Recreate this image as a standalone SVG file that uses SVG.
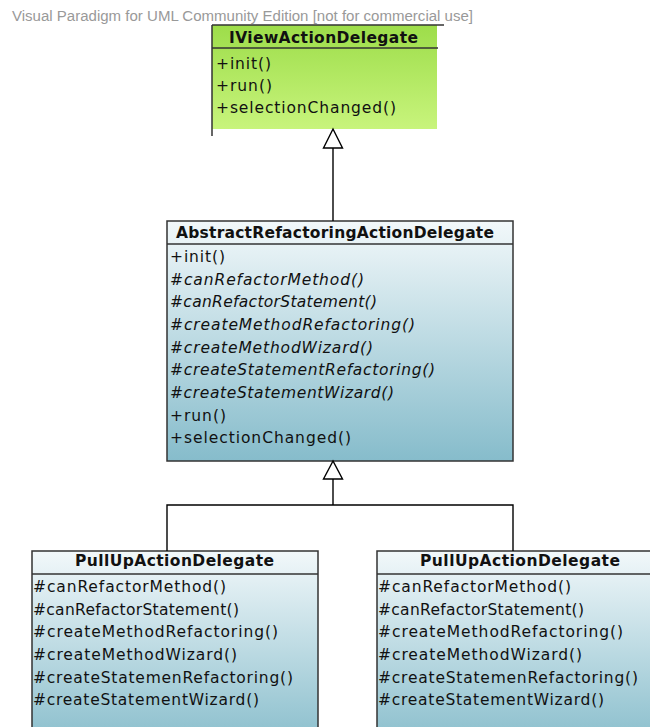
<svg xmlns="http://www.w3.org/2000/svg" width="650" height="727" viewBox="0 0 650 727">
<defs>
<linearGradient id="green" x1="0" y1="0" x2="0" y2="1">
<stop offset="0" stop-color="#9ddd4a"/>
<stop offset="1" stop-color="#c8f47c"/>
</linearGradient>
<linearGradient id="blue" x1="0" y1="0" x2="0" y2="1">
<stop offset="0" stop-color="#f2f8fa"/>
<stop offset="1" stop-color="#86bccb"/>
</linearGradient>
<linearGradient id="blue2" x1="0" y1="0" x2="0" y2="1">
<stop offset="0" stop-color="#f2f8fa"/>
<stop offset="1" stop-color="#8bbfcd"/>
</linearGradient>
</defs>
<style>
.wm{font-family:"Liberation Sans",Arial,sans-serif;font-size:14px;fill:#999}
.t{font-family:"DejaVu Sans",sans-serif;font-size:15.5px;font-weight:bold;fill:#111}
.m{font-family:"DejaVu Sans",sans-serif;font-size:15.5px;fill:#111}
.i{font-style:italic}
.b{stroke:#333;stroke-width:1.5;fill:none}
.c{stroke:#000;stroke-width:1.4;fill:none}
.tri{stroke:#000;stroke-width:1.4;fill:#fff}
</style>
<text class="wm" x="12" y="21" textLength="461" lengthAdjust="spacingAndGlyphs">Visual Paradigm for UML Community Edition [not for commercial use]</text>

<g id="IViewActionDelegate">
<rect x="212" y="25" width="225" height="104" fill="url(#green)"/>
<line class="b" x1="212" y1="25" x2="444" y2="25"/>
<line class="b" x1="212" y1="25" x2="212" y2="136"/>
<line class="b" x1="212" y1="48" x2="438" y2="48"/>
<text class="t" x="229" y="43" textLength="189" lengthAdjust="spacing">IViewActionDelegate</text>
<text class="m" x="216" y="69" textLength="55" lengthAdjust="spacing">+init()</text>
<text class="m" x="216" y="91" textLength="56" lengthAdjust="spacing">+run()</text>
<text class="m" x="216" y="113" textLength="180" lengthAdjust="spacing">+selectionChanged()</text>
</g>

<g id="AbstractRefactoringActionDelegate">
<rect x="167" y="221" width="346" height="240" fill="url(#blue)"/>
<rect class="b" x="167" y="221" width="346" height="240"/>
<line class="b" x1="167" y1="244" x2="513" y2="244"/>
<text class="t" x="176" y="238" textLength="318" lengthAdjust="spacing">AbstractRefactoringActionDelegate</text>
<text class="m" x="170" y="262" textLength="55" lengthAdjust="spacing">+init()</text>
<text class="m i" x="170" y="285" textLength="194" lengthAdjust="spacing">#canRefactorMethod()</text>
<text class="m i" x="170" y="307" textLength="207" lengthAdjust="spacing">#canRefactorStatement()</text>
<text class="m i" x="170" y="330" textLength="245" lengthAdjust="spacing">#createMethodRefactoring()</text>
<text class="m i" x="170" y="353" textLength="203" lengthAdjust="spacing">#createMethodWizard()</text>
<text class="m i" x="170" y="375" textLength="265" lengthAdjust="spacing">#createStatementRefactoring()</text>
<text class="m i" x="170" y="398" textLength="224" lengthAdjust="spacing">#createStatementWizard()</text>
<text class="m" x="170" y="421" textLength="56" lengthAdjust="spacing">+run()</text>
<text class="m" x="170" y="443" textLength="181" lengthAdjust="spacing">+selectionChanged()</text>
</g>

<g id="PullUpActionDelegate1">
<rect x="32" y="551" width="286" height="190" fill="url(#blue2)"/>
<rect class="b" x="32" y="551" width="286" height="190"/>
<line class="b" x1="32" y1="574" x2="318" y2="574"/>
<text class="t" x="75" y="566" textLength="199" lengthAdjust="spacing">PullUpActionDelegate</text>
<text class="m" x="33" y="592" textLength="193" lengthAdjust="spacing">#canRefactorMethod()</text>
<text class="m" x="33" y="615" textLength="206" lengthAdjust="spacing">#canRefactorStatement()</text>
<text class="m" x="33" y="637" textLength="245" lengthAdjust="spacing">#createMethodRefactoring()</text>
<text class="m" x="33" y="660" textLength="204" lengthAdjust="spacing">#createMethodWizard()</text>
<text class="m" x="33" y="683" textLength="260" lengthAdjust="spacing">#createStatemenRefactoring()</text>
<text class="m" x="33" y="705" textLength="226" lengthAdjust="spacing">#createStatementWizard()</text>
</g>

<g id="PullUpActionDelegate2">
<rect x="377" y="551" width="290" height="190" fill="url(#blue2)"/>
<rect class="b" x="377" y="551" width="290" height="190"/>
<line class="b" x1="377" y1="574" x2="650" y2="574"/>
<text class="t" x="420" y="566" textLength="200" lengthAdjust="spacing">PullUpActionDelegate</text>
<text class="m" x="378" y="592" textLength="193" lengthAdjust="spacing">#canRefactorMethod()</text>
<text class="m" x="378" y="615" textLength="206" lengthAdjust="spacing">#canRefactorStatement()</text>
<text class="m" x="378" y="637" textLength="245" lengthAdjust="spacing">#createMethodRefactoring()</text>
<text class="m" x="378" y="660" textLength="204" lengthAdjust="spacing">#createMethodWizard()</text>
<text class="m" x="378" y="683" textLength="260" lengthAdjust="spacing">#createStatemenRefactoring()</text>
<text class="m" x="378" y="705" textLength="226" lengthAdjust="spacing">#createStatementWizard()</text>
</g>

<g id="connectors">
<line class="c" x1="333" y1="148" x2="333" y2="221"/>
<polygon class="tri" points="333,129 323.5,148 342.5,148"/>
<polyline class="c" points="167,551 167,505 513,505 513,551"/>
<line class="c" x1="333" y1="479" x2="333" y2="505"/>
<polygon class="tri" points="333,461 323.5,479 342.5,479"/>
</g>
</svg>
